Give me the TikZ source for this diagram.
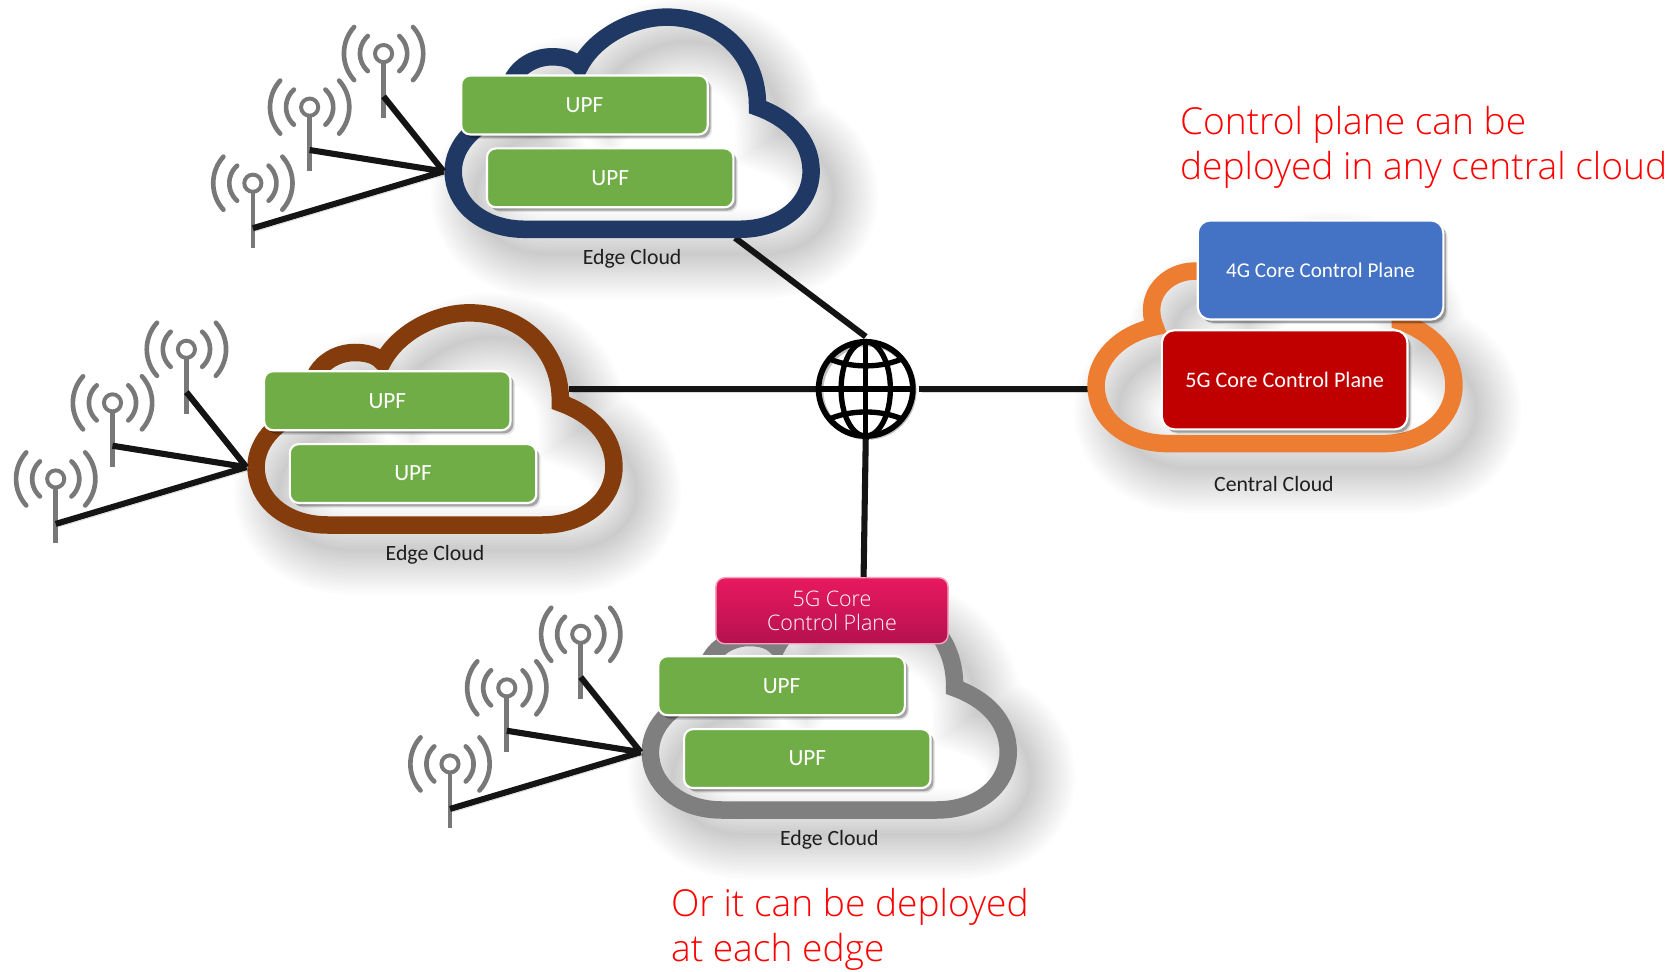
\documentclass[tikz,border=0pt]{standalone}
\usepackage{fontspec}
\setmainfont{Carlito}
\newfontfamily\osans{Open Sans Light}
\usetikzlibrary{shadows,calc}
\definecolor{cnavy}{HTML}{1F3864}
\definecolor{cbrown}{HTML}{843C0C}
\definecolor{cgrey}{HTML}{7F7F7F}
\definecolor{corange}{HTML}{ED7D31}
\definecolor{cgreen}{HTML}{70AD47}
\definecolor{cblue}{HTML}{4472C4}
\definecolor{cred}{HTML}{C00000}
\definecolor{cpinkt}{HTML}{E8195F}
\definecolor{cpinkb}{HTML}{B5114F}
\definecolor{cant}{HTML}{787878}
\definecolor{ctext}{HTML}{1E1E1E}
\tikzset{
  softshadow/.style={drop shadow={shadow xshift=1.6pt,shadow yshift=-1.8pt,opacity=.28,fill=black},
                     drop shadow={shadow xshift=2.4pt,shadow yshift=-2.6pt,opacity=.10,fill=black}},
  upfbox/.style={draw=white,line width=1.2pt,rounded corners=5pt,fill=cgreen,text=white,
     minimum width=138pt,minimum height=33pt,inner sep=0pt,softshadow,font=\fontsize{13}{13}\selectfont},
  coreblock/.style={draw=white,line width=1.2pt,rounded corners=7pt,text=white,
     minimum width=137.5pt,minimum height=55.5pt,inner sep=0pt,softshadow},
  pinkblock/.style={draw=white!60!cpinkt,line width=.8pt,rounded corners=5pt,top color=cpinkt,bottom color=cpinkb,
     text=white,minimum width=130pt,minimum height=37pt,inner sep=0pt,align=center,
     font=\osans\fontsize{12}{13.4}\selectfont},
  cloudlabel/.style={text=ctext,inner sep=0pt,font=\fontsize{12.2}{12.2}\selectfont},
  redtext/.style={text=red,anchor=north west,align=left,inner sep=0pt,font=\osans\fontsize{20.8}{25.3}\selectfont},
  link/.style={line width=3.4pt,draw=black!92,
     preaction={draw=black,opacity=.14,transform canvas={shift={(1.5pt,-1.8pt)}}}},
  antline/.style={draw=cant,line width=2.6pt,line cap=round},
  globeline/.style={line width=3pt,draw=black}
}
\newcommand{\cloudcurve}{(490,214) .. controls (450,214) and (423,190) .. (423,160)
  .. controls (423,135) and (445,112) .. (478,105)
  .. controls (466,75) and (490,53) .. (515,53)
  .. controls (525,53) and (535,55) .. (541,62)
  .. controls (555,35) and (590,16) .. (622,16)
  .. controls (670,16) and (708,50) .. (707,100)
  .. controls (735,110) and (757,130) .. (757,160)
  .. controls (757,190) and (730,214) .. (690,214) -- cycle}
\newcommand{\cloudshadow}[1]{%
  \begin{scope}[shift={(21,23)}]\begin{scope}[#1]
  \foreach \w in {50,47,...,2}{\draw[black,opacity=.010,line width=\w pt] \cloudcurve;}
  \end{scope}\end{scope}}
\newcommand{\cloudring}[2]{\begin{scope}[#1]\draw[#2,line width=9.8pt,miter limit=10] \cloudcurve;\end{scope}}
\newcommand{\antenna}[3]{%
  \coordinate (#1) at (#2,#3);
  \foreach \r/\a in {37/42,22/48}{
    \draw[antline] ($(#1)+({\r*cos(\a)},{\r*sin(\a)})$) arc[start angle=\a,delta angle=-2*\a,radius=\r];
    \draw[antline] ($(#1)+({-\r*cos(\a)},{\r*sin(\a)})$) arc[start angle=180-\a,delta angle=2*\a,radius=\r];
  }
  \draw[antline,line cap=butt] ($(#1)+(0,8)$) -- ($(#1)+(0,60)$);
  \draw[antline,line width=2.2pt] (#1) circle[radius=8];
}
\newcommand{\edgegroup}[1]{%
  \node[upfbox] (#1upfa) at (545.5,98) {\raisebox{-0.6pt}{UPF}};
  \node[upfbox] (#1upfb) at (569.5,166) {\raisebox{-0.6pt}{UPF}};
  \node[cloudlabel] (#1label) at (590,242) {Edge Cloud};
  \antenna{#1anta}{236}{171}
  \antenna{#1antb}{289}{100}
  \antenna{#1antc}{358}{50}
  \coordinate (#1hub) at (414,160);
  \coordinate (#1ja) at ($(#1anta)+(0,42)$);
  \coordinate (#1jb) at ($(#1antb)+(0,40)$);
  \coordinate (#1jc) at ($(#1antc)+(0,40)$);
  \draw[link,line cap=butt] (#1ja) -- (#1hub) (#1jb) -- (#1hub) (#1jc) -- (#1hub);
}
\begin{document}
\begin{tikzpicture}[x=0.6pt,y=-0.6pt]
\useasboundingbox (0,0) rectangle (1568,907);
\fill[white] (0,0) rectangle (1568,907);
\cloudshadow{}
\cloudshadow{shift={(-184,276)}}
\cloudshadow{shift={(184,542)}}
\cloudshadow{shift={(600,200)}}
\coordinate (navyend) at (686,222);
\coordinate (brownend) at (531,363);
\coordinate (orangeend) at (1016,363);
\node[circle,minimum size=55pt,inner sep=0pt,outer sep=0pt] (globe) at (808,363) {};
\draw[link] (navyend) -- ($(globe.north)+(0,-3)$);
\draw[link] (brownend) -- (globe.west);
\draw[link] ($(globe.east)+(4,0)$) -- (orangeend);
\cloudring{}{cnavy}
\cloudring{shift={(-184,276)}}{cbrown}
\cloudring{shift={(184,542)}}{cgrey}
\cloudring{shift={(600,200)}}{corange}
\begin{scope}[shift={(809.5,364.5)}]
\draw[black!25,line width=3pt] (0,0) circle[radius=43.5];
\end{scope}
\begin{scope}[shift={(808,363)}]
\clip (0,0) circle[radius=44.5];
\draw[globeline] (0,-45) -- (0,45) (-45,0) -- (45,0);
\draw[globeline] (0,0) ellipse[x radius=23,y radius=44];
\draw[globeline] (-36,-29) .. controls (-15,-19) and (15,-19) .. (36,-29);
\draw[globeline] (-36,29) .. controls (-15,19) and (15,19) .. (36,29);
\end{scope}
\draw[globeline,line width=3.2pt] (globe.center) circle[radius=44];
\begin{scope}\edgegroup{navy}\end{scope}
\begin{scope}[shift={(-184,276)}]\edgegroup{brown}\end{scope}
\begin{scope}[shift={(184,542)}]\edgegroup{grey}\end{scope}
\node[coreblock,fill=cblue,font=\fontsize{11.8}{12}\selectfont] (core4g) at (1232.5,252) {4G Core Control Plane};
\node[coreblock,fill=cred,font=\fontsize{12.4}{12}\selectfont] (core5g) at (1199,354.5) {5G Core Control Plane};
\node[cloudlabel] (centrallabel) at (1189,452) {Central Cloud};
\node[pinkblock] (pink) at (776.5,570) {5G Core\\Control Plane};
\draw[link] ($(globe.south)+(0,1)$) -- ($(pink.north)+(29.5,0)$);
\node[redtext] (notea) at (1101,99) {Control plane can be\\deployed in any central cloud};
\node[redtext] (noteb) at (626,829) {Or it can be deployed\\at each edge};
\end{tikzpicture}
\end{document}
